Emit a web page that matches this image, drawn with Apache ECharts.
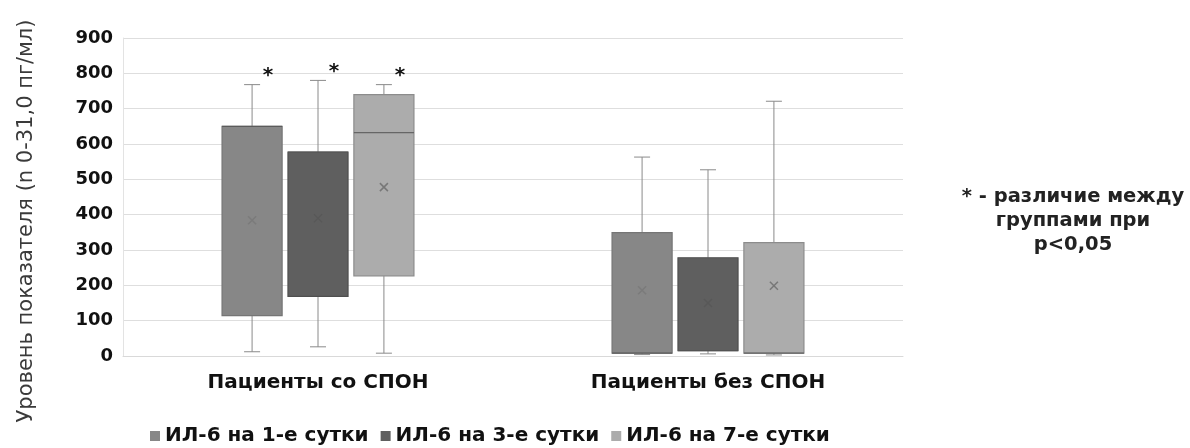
<!DOCTYPE html>
<html>
<head>
<meta charset="utf-8">
<script src="https://cdn.jsdelivr.net/npm/echarts@6/dist/echarts.min.js"></script>
<style>
  html, body { margin: 0; padding: 0; background: #fff; }
  #chart { width: 1190px; height: 448px; }
</style>
</head>
<body>
<div id="chart"></div>
<script>
// Patient groups on the category axis
const categories = ['Пациенты со СПОН', 'Пациенты без СПОН'];
const seriesNames = ['ИЛ-6 на 1-е сутки', 'ИЛ-6 на 3-е сутки', 'ИЛ-6 на 7-е сутки'];

// Box statistics per group: [min, Q1, median, Q3, max], pg/ml
const day1Stats = [[12, 114, 650, 650, 768], [4, 8, 8, 349, 563]];
const day3Stats = [[26, 169, 577, 577, 780], [6, 15, 15, 278, 527]];
const day7Stats = [[8, 227, 632, 740, 768], [3, 8, 8, 321, 721]];

// Means per group
const day1Means = [384, 186];
const day3Means = [390, 150];
const day7Means = [478, 199];

// Significance marks (p<0,05) per group
const day1Sig = ['*', ''];
const day3Sig = ['*', ''];
const day7Sig = ['*', ''];

// Y axis ticks
const yTicks = [0, 100, 200, 300, 400, 500, 600, 700, 800, 900];

const fills = ['#878787', '#5f5f5f', '#acacac'];
const borders = ['#757575', '#4f4f4f', '#8c8c8c'];
const meanColors = ['#7b7b7b', '#585858', '#777777'];
const whiskerColor = '#8a8a8a';
const labelFont = 'DejaVu Sans';

function boxSeries(idx, stats, means, sig) {
  const data = categories.map((c, i) => [i].concat(stats[i], [means[i]]));
  return {
    name: seriesNames[idx],
    type: 'custom',
    itemStyle: { color: fills[idx] },
    encode: { x: 0, y: [1, 2, 3, 4, 5, 6] },
    data: data,
    renderItem: function (params, api) {
      const cat = api.value(0);
      const band = api.size([1, 0])[0];
      const step = band * 0.169;
      const boxW = band * 0.154;
      const cx = api.coord([cat, 0])[0] + (idx - 1) * step;
      const y = (v) => api.coord([cat, api.value(v)])[1];
      const yMin = y(1), yQ1 = y(2), yMed = y(3), yQ3 = y(4), yMax = y(5), yMean = y(6);
      const capW = 8;
      const ms = 4;
      const children = [
        // whiskers
        { type: 'line', shape: { x1: cx, y1: yQ3, x2: cx, y2: yMax }, style: { stroke: whiskerColor, lineWidth: 1 } },
        { type: 'line', shape: { x1: cx, y1: yQ1, x2: cx, y2: yMin }, style: { stroke: whiskerColor, lineWidth: 1 } },
        { type: 'line', shape: { x1: cx - capW, y1: yMax, x2: cx + capW, y2: yMax }, style: { stroke: whiskerColor, lineWidth: 1 } },
        { type: 'line', shape: { x1: cx - capW, y1: yMin, x2: cx + capW, y2: yMin }, style: { stroke: whiskerColor, lineWidth: 1 } },
        // box
        { type: 'rect', shape: { x: cx - boxW / 2, y: yQ3, width: boxW, height: yQ1 - yQ3 },
          style: { fill: fills[idx], stroke: borders[idx], lineWidth: 1.2 } },
        // median
        { type: 'line', shape: { x1: cx - boxW / 2, y1: yMed, x2: cx + boxW / 2, y2: yMed },
          style: { stroke: '#555555', lineWidth: 1.3, opacity: 0.8 } },
        // mean marker
        { type: 'line', shape: { x1: cx - ms, y1: yMean - ms, x2: cx + ms, y2: yMean + ms }, style: { stroke: meanColors[idx], lineWidth: 1.5 } },
        { type: 'line', shape: { x1: cx - ms, y1: yMean + ms, x2: cx + ms, y2: yMean - ms }, style: { stroke: meanColors[idx], lineWidth: 1.5 } }
      ];
      if (sig[cat]) {
        children.push({
          type: 'text',
          x: cx + 16, y: yMax - 9,
          style: { text: sig[cat], fill: '#111', font: 'bold 20px "DejaVu Sans"', align: 'center', verticalAlign: 'middle' }
        });
      }
      return { type: 'group', children: children };
    }
  };
}

const chart = echarts.init(document.getElementById('chart'), null, { renderer: 'canvas' });
chart.setOption({
  animation: false,
  backgroundColor: '#ffffff',
  grid: { left: 123, right: 287, top: 38, bottom: 92 },
  legend: {
    data: seriesNames,
    top: 421,
    left: 145,
    icon: 'rect',
    itemWidth: 10,
    itemHeight: 10,
    itemGap: 12,
    textStyle: { fontFamily: labelFont, fontWeight: 'bold', fontSize: 20, color: '#111' }
  },
  xAxis: {
    type: 'category',
    data: categories,
    axisTick: { show: false },
    axisLine: { lineStyle: { color: '#d9d9d9' } },
    axisLabel: { margin: 17, fontFamily: labelFont, fontWeight: 'bold', fontSize: 20, color: '#111' }
  },
  yAxis: {
    type: 'value',
    min: 0,
    max: 900,
    interval: 100,
    axisLine: { show: true, lineStyle: { color: '#e3e3e3' } },
    axisTick: { show: false },
    splitLine: { lineStyle: { color: '#dedede' } },
    axisLabel: {
      margin: 10,
      fontFamily: labelFont, fontWeight: 'bold', fontSize: 18, color: '#111',
      formatter: (v) => yTicks.includes(v) ? String(v) : ''
    }
  },
  graphic: [{
    // y axis title
    type: 'text',
    x: 27,
    y: 221,
    rotation: Math.PI / 2,
    style: {
      text: 'Уровень показателя (n 0-31,0 пг/мл)',
      fill: '#3a3a3a',
      font: '21px "DejaVu Sans"',
      align: 'center',
      verticalAlign: 'middle'
    }
  }, {
    // significance note
    type: 'text',
    x: 1073,
    y: 185,
    style: {
      text: '* - различие между\nгруппами при\np<0,05',
      fill: '#222',
      font: 'bold 19.5px "DejaVu Sans"',
      align: 'center',
      lineHeight: 24
    }
  }],
  series: [
    boxSeries(0, day1Stats, day1Means, day1Sig),
    boxSeries(1, day3Stats, day3Means, day3Sig),
    boxSeries(2, day7Stats, day7Means, day7Sig)
  ]
});
</script>
</body>
</html>
